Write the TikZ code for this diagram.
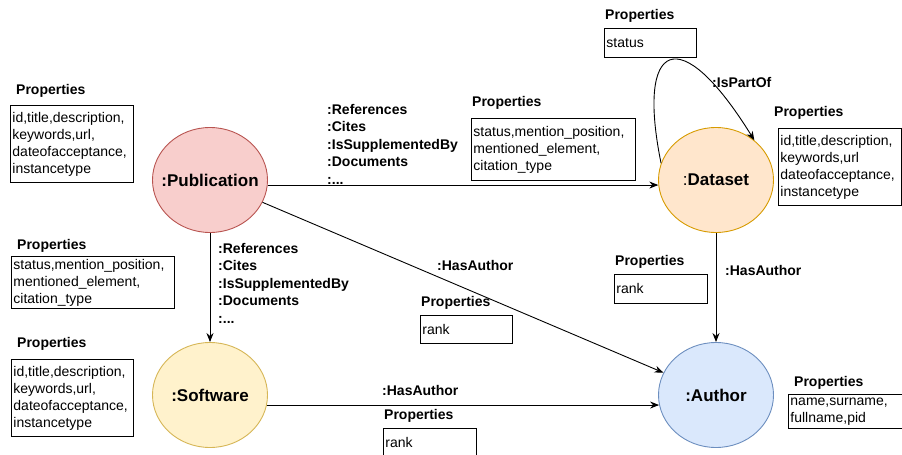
\documentclass[tikz,border=0pt]{standalone}
\usepackage{fontspec}
\setmainfont{Liberation Sans}
\usetikzlibrary{shapes.geometric,arrows.meta}

\definecolor{pubFill}{HTML}{F8CECC}
\definecolor{pubLine}{HTML}{B85450}
\definecolor{dataFill}{HTML}{FFE6CC}
\definecolor{dataLine}{HTML}{D79B00}
\definecolor{softFill}{HTML}{FFF2CC}
\definecolor{softLine}{HTML}{D6B656}
\definecolor{authFill}{HTML}{DAE8FC}
\definecolor{authLine}{HTML}{6C8EBF}

\begin{document}
\begin{tikzpicture}
[
	x	= 1pt,	% one unit per pixel of the sketch
	y	= -1pt,	% rows grow downwards
	entity/.style	= {shape = ellipse, minimum width = 115pt, minimum height = 105pt, line width = 0.9pt, inner xsep = -25pt, inner ysep = 0pt, font = \fontsize{17}{20}\selectfont\bfseries},
	propbox/.style	= {draw = black, line width = 0.9pt, anchor = north west, align = left, inner xsep = 2pt, inner ysep = 0pt, font = \fontsize{14}{17}\selectfont},
	proptitle/.style	= {anchor = west, inner sep = 0pt, font = \fontsize{14}{17}\selectfont\bfseries},
	rellabel/.style	= {anchor = west, inner sep = 0pt, align = left, font = \fontsize{14}{17.5}\selectfont\bfseries},
	rel/.style	= {line width = 0.9pt, -{Stealth[length = 9pt, width = 7pt]}},
]

\path [use as bounding box, fill = white] (0,0) rectangle (902,455);

{
	% nodes declaration
	\node (nPublication) [entity, draw = pubLine, fill = pubFill] at (210,180) {:Publication};
	\node (nDataset) [entity, draw = dataLine, fill = dataFill] at (716,180) {{\mdseries :}Dataset};
	\node (nSoftware) [entity, draw = softLine, fill = softFill] at (210,395) {:Software};
	\node (nAuthor) [entity, draw = authLine, fill = authFill] at (716,395) {:Author};

	% property boxes
	\node (bPubProps) [propbox, text width = 119pt, minimum height = 77pt] at (10,105) {id,title,description,\\keywords,url,\\dateofacceptance,\\instancetype};
	\node (bRefProps) [propbox, text width = 160pt, minimum height = 62pt] at (471,118) {status,mention\_position,\\mentioned\_element,\\citation\_type};
	\node (bSoftRefProps) [propbox, text width = 159pt, minimum height = 52pt] at (11,256) {status,mention\_position,\\mentioned\_element,\\citation\_type};
	\node (bSoftProps) [propbox, text width = 118pt, minimum height = 77pt] at (11,359) {id,title,description,\\keywords,url,\\dateofacceptance,\\instancetype};
	\node (bStatus) [propbox, text width = 88pt, minimum height = 29pt] at (604,28) {status};
	\node (bDataProps) [propbox, text width = 119pt, minimum height = 77pt] at (778,128) {id,title,description,\\keywords,url\\dateofacceptance,\\instancetype};
	\node (bRankOne) [propbox, text width = 88pt, minimum height = 28pt] at (420,315) {rank};
	\node (bRankTwo) [propbox, text width = 89pt, minimum height = 29pt] at (614,274) {rank};
	\node (bRankThree) [propbox, text width = 89pt, minimum height = 29pt] at (383,428) {rank};
	\node (bAuthorProps) [propbox, text width = 113pt, minimum height = 34pt] at (788,394) {name,surname,\\fullname,pid};

	% property titles
	\node (tPubProps) [proptitle] at (16,91) {Properties};
	\node (tRefProps) [proptitle] at (472,103) {Properties};
	\node (tSoftRefProps) [proptitle] at (17,246) {Properties};
	\node (tSoftProps) [proptitle] at (17,344) {Properties};
	\node (tStatus) [proptitle] at (605,16) {Properties};
	\node (tDataProps) [proptitle] at (774,113) {Properties};
	\node (tRankOne) [proptitle] at (421,303) {Properties};
	\node (tRankTwo) [proptitle] at (615,262) {Properties};
	\node (tRankThree) [proptitle] at (384,416) {Properties};
	\node (tAuthorProps) [proptitle] at (794,383) {Properties};

	% relation labels
	\node (lPubData) [rellabel] at (327,144) {:References\\:Cites\\:IsSupplementedBy\\:Documents\\:...};
	\node (lPubSoft) [rellabel] at (218,283) {:References\\:Cites\\:IsSupplementedBy\\:Documents\\:...};
	\node (lPartOf) [rellabel] at (712,82) {:IsPartOf};
	\node (lPubAuth) [rellabel] at (437,265) {:HasAuthor};
	\node (lDataAuth) [rellabel] at (725,270) {:HasAuthor};
	\node (lSoftAuth) [rellabel] at (382,390) {:HasAuthor};

	% edges declaration
	\draw [rel] (nPublication.-5) -- (nDataset.185);
	\draw [rel] (nPublication) -- (nSoftware);
	\draw [rel] (nPublication) -- (nAuthor);
	\draw [rel] (nSoftware.-10) -- (nAuthor.190);
	\draw [rel] (nDataset) -- (nAuthor);
	\draw [rel] (nDataset.163) .. controls (636,40) and (680,20) .. (nDataset.46);
}

\end{tikzpicture}
\end{document}
